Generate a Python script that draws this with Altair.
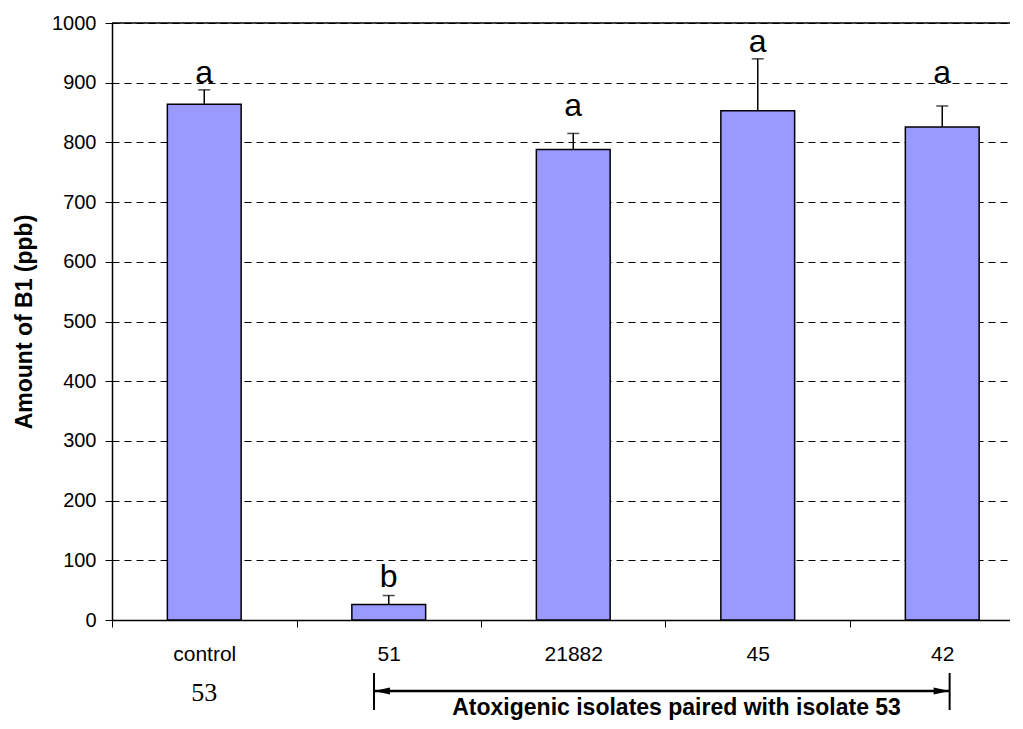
import json
import altair as alt
import pandas as pd

# ---- data ----
categories = ["control", "51", "21882", "45", "42"]
means = [864, 26, 788, 853, 826]
err_top = [888, 41, 815, 940, 861]
letters = ["a", "b", "a", "a", "a"]
letter_level = [899, 55, 845, 952, 899]

y_ticks = list(range(0, 1001, 100))
y_max = 1000
sub_label = "53"
bottom_title = "Atoxigenic isolates paired with isolate 53"
y_title = "Amount of B1 (ppb)"

# annotation anchors in x-scale units (category index)
arrow_from = 0.92
arrow_to = 4.04
title_at = 2.56

# ---- layout ----
W, H = 898, 597
STEP = 184.5
x_dom = [-0.5, -0.5 + W / STEP]
FONT = "Liberation Sans, Arial"

df = pd.DataFrame({
    "idx": list(range(len(categories))),
    "cat": categories,
    "mean": means,
    "top": err_top,
    "letter": letters,
    "lvl": letter_level,
})

xs = alt.Scale(domain=x_dom, nice=False, zero=False)
ys = alt.Scale(domain=[0, y_max], nice=False, zero=True)

names_js = json.dumps(categories)
x_axis = alt.Axis(
    values=[v / 2 for v in range(-1, 2 * len(categories))],
    labelExpr=f"datum.value % 1 === 0 ? {names_js}[datum.value] : ''",
    tickOpacity={"condition": {"test": "datum.value % 1 !== 0", "value": 1}, "value": 0},
    tickSize=7, tickColor="black", tickWidth=1,
    labelPadding=16, labelFontSize=21, labelColor="black", labelFont=FONT,
    labelOverlap=False, labelFlush=False,
    domainColor="black", domainWidth=1.5,
    grid=False, title=None,
)
y_axis = alt.Axis(
    values=y_ticks, format="d", tickSize=7, tickColor="black", tickWidth=1,
    labelFontSize=20, labelColor="black", labelFont=FONT, labelPadding=9,
    domainColor="black", domainWidth=1.5,
    grid=True, gridColor="black", gridDash=[7, 5], gridWidth=1,
    title=y_title, titleFont=FONT, titleFontSize=23, titleFontWeight="bold",
    titleColor="black", titlePadding=15,
)

base = alt.Chart(df)

bars = base.transform_calculate(
    x0="datum.idx - 0.2", x1="datum.idx + 0.2"
).mark_bar(color="#9999FF", stroke="black", strokeWidth=1.5).encode(
    x=alt.X("x0:Q", scale=xs, axis=x_axis),
    x2="x1:Q",
    y=alt.Y("mean:Q", scale=ys, axis=y_axis),
    y2=alt.datum(0),
)

err = base.mark_rule(color="black", strokeWidth=1.5).encode(
    x=alt.X("idx:Q", scale=xs), y=alt.Y("mean:Q", scale=ys), y2="top:Q"
)
caps = base.mark_tick(color="black", orient="horizontal", size=12, thickness=1.5).encode(
    x=alt.X("idx:Q", scale=xs), y=alt.Y("top:Q", scale=ys)
)
lett = base.mark_text(fontSize=32, font=FONT, baseline="alphabetic", color="black").encode(
    x=alt.X("idx:Q", scale=xs), y=alt.Y("lvl:Q", scale=ys), text="letter:N"
)

top_line = alt.Chart(pd.DataFrame({"v": [y_max]})).mark_rule(
    color="black", strokeWidth=1.5
).encode(y=alt.Y("v:Q", scale=ys))

# annotation below the axis
ann = pd.DataFrame({"a": [arrow_from], "b": [arrow_to], "t": [title_at], "c": [0],
                    "s": [sub_label], "bt": [bottom_title]})
ac = alt.Chart(ann)
arrow_line = ac.mark_rule(color="black", strokeWidth=2.5).encode(
    x=alt.X("a:Q", scale=xs), x2="b:Q", y=alt.value(668)
)
end_l = ac.mark_rule(color="black", strokeWidth=2).encode(
    x=alt.X("a:Q", scale=xs), y=alt.value(650), y2=alt.value(687)
)
end_r = ac.mark_rule(color="black", strokeWidth=2).encode(
    x=alt.X("b:Q", scale=xs), y=alt.value(650), y2=alt.value(687)
)
head_l = ac.mark_point(shape="M-1,0 L1,-0.45 L1,0.45 Z", size=256, filled=True,
                       color="black", opacity=1, xOffset=8).encode(
    x=alt.X("a:Q", scale=xs), y=alt.value(668)
)
head_r = ac.mark_point(shape="M1,0 L-1,-0.45 L-1,0.45 Z", size=256, filled=True,
                       color="black", opacity=1, xOffset=-8).encode(
    x=alt.X("b:Q", scale=xs), y=alt.value(668)
)
sub = ac.mark_text(font="Liberation Serif, Times New Roman", fontSize=26,
                   baseline="middle", color="black").encode(
    x=alt.X("c:Q", scale=xs), y=alt.value(670), text="s:N"
)
btitle = ac.mark_text(font=FONT, fontSize=23, fontWeight="bold",
                      baseline="alphabetic", color="black").encode(
    x=alt.X("t:Q", scale=xs), y=alt.value(692), text="bt:N"
)

chart = alt.layer(
    bars, err, caps, lett, top_line,
    arrow_line, end_l, end_r, head_l, head_r, sub, btitle,
).properties(
    width=W, height=H,
    autosize=alt.AutoSizeParams(type="none"),
    padding={"left": 104, "top": 15, "right": 0, "bottom": 100},
    background="white",
).configure_view(stroke=None)

chart.save("out.html", embed_options={"renderer": "svg", "actions": False})
